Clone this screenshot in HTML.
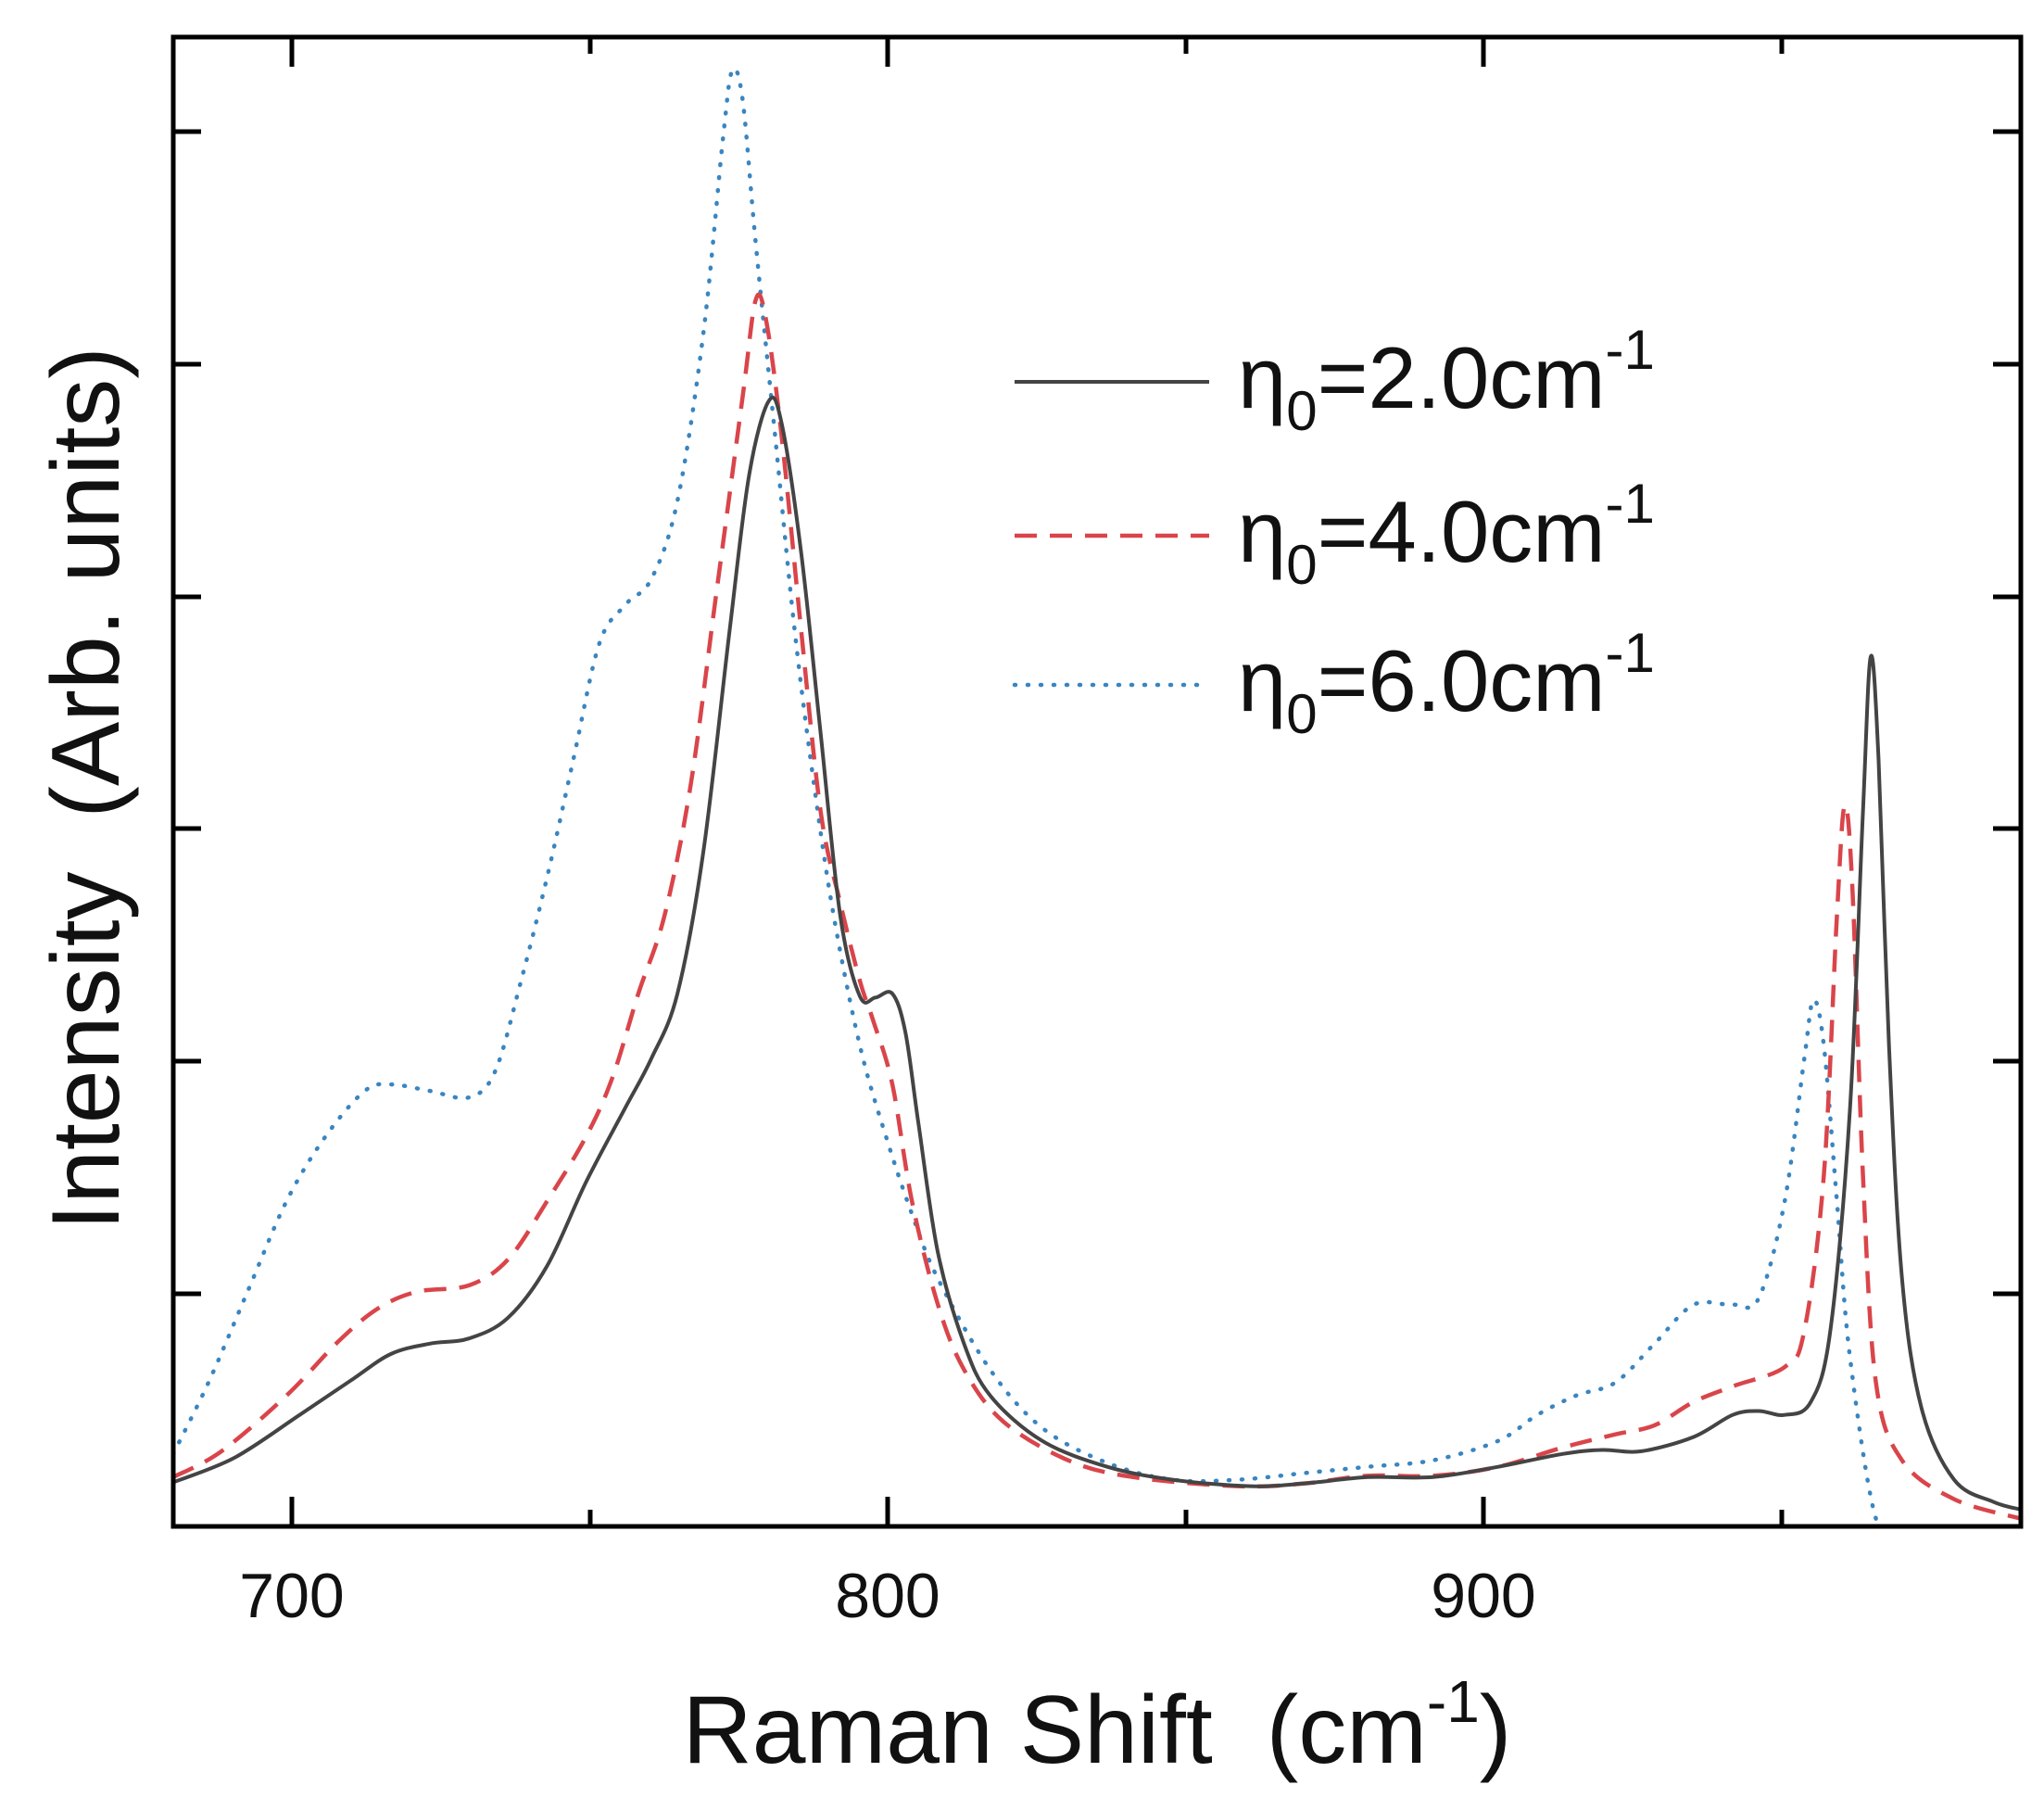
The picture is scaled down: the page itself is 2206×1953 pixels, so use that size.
<!DOCTYPE html>
<html><head><meta charset="utf-8"><style>
html,body{margin:0;padding:0;background:#fff}
svg{display:block}
text{font-family:"Liberation Sans",Arial,sans-serif;fill:#111}
</style></head><body>
<svg id="s" width="2206" height="1953" viewBox="0 0 2206 1953" xmlns="http://www.w3.org/2000/svg">
<defs><clipPath id="c"><rect x="187" y="40" width="1994" height="1607"/></clipPath></defs>
<g clip-path="url(#c)">
<path id="p3" fill="none" stroke="#3a85c0" stroke-width="4.5" stroke-dasharray="1 13" stroke-linecap="round"/>
<path id="p2" fill="none" stroke="#d9454a" stroke-width="4.5" stroke-dasharray="24 14"/>
<path id="p1" fill="none" stroke="#444" stroke-width="4"/>
</g>
<g stroke="#000" stroke-width="5" fill="none">
<rect x="187" y="40" width="1994" height="1607"/>
<path d="M315 1647v-32M958 1647v-32M1601 1647v-32M637 1647v-18M1280 1647v-18M1923 1647v-18
M315 40v32M958 40v32M1601 40v32M637 40v18M1280 40v18M1923 40v18
M187 142h30M187 393h30M187 644h30M187 894h30M187 1145h30M187 1396h30
M2181 142h-30M2181 393h-30M2181 644h-30M2181 894h-30M2181 1145h-30M2181 1396h-30"/>
</g>
<g font-size="68" text-anchor="middle">
<text x="315" y="1745">700</text><text x="958" y="1745">800</text><text x="1601" y="1745">900</text>
</g>
<text x="1184" y="1902" font-size="104" text-anchor="middle" xml:space="preserve">Raman Shift  (cm<tspan font-size="64" dy="-44">-1</tspan><tspan dy="44">)</tspan></text>
<text transform="translate(128,851) rotate(-90)" font-size="104" text-anchor="middle" xml:space="preserve">Intensity  (Arb. units)</text>
<g>
<line x1="1095" y1="412" x2="1305" y2="412" stroke="#444" stroke-width="4"/>
<line x1="1095" y1="578" x2="1305" y2="578" stroke="#d9454a" stroke-width="4.5" stroke-dasharray="24 14"/>
<line x1="1095" y1="739" x2="1305" y2="739" stroke="#3a85c0" stroke-width="4.5" stroke-dasharray="1 13" stroke-linecap="round"/>
<text x="1336" y="440" font-size="94">η<tspan font-size="60" dy="24">0</tspan><tspan dy="-24">=2.0cm</tspan><tspan font-size="60" dy="-42">-1</tspan></text>
<text x="1336" y="606" font-size="94">η<tspan font-size="60" dy="24">0</tspan><tspan dy="-24">=4.0cm</tspan><tspan font-size="60" dy="-42">-1</tspan></text>
<text x="1336" y="767" font-size="94">η<tspan font-size="60" dy="24">0</tspan><tspan dy="-24">=6.0cm</tspan><tspan font-size="60" dy="-42">-1</tspan></text>
</g>
</svg>
<script>
var A=[[133,1137],[180,1118],[230,1085],[270,1058],[300,1038],[330,1030],[360,1026],[390,1010],[420,970],[450,905],[480,848],[500,810],[520,760],[540,650],[560,480],[575,360],[590,303],[600,320],[615,420],[630,560],[645,700],[660,762],[672,763],[685,760],[695,790],[705,860],[720,960],[740,1030],[760,1070],[800,1105],[850,1125],[900,1135],[960,1140],[1000,1138],[1050,1133],[1100,1133],[1150,1125],[1200,1115],[1230,1112],[1260,1113],[1300,1102],[1330,1085],[1350,1082],[1370,1085],[1390,1075],[1405,1020],[1420,850],[1430,620],[1436,500],[1442,580],[1450,800],[1460,980],[1475,1080],[1500,1135],[1530,1152],[1551,1158]];
var B=[[133,1133],[170,1113],[220,1070],[260,1028],[290,1003],[320,990],[360,985],[390,965],[420,920],[450,870],[470,825],[490,760],[510,700],[530,600],[550,450],[570,300],[580,225],[588,240],[600,330],[615,480],[630,620],[645,690],[660,750],[670,780],[685,830],[700,920],[720,1000],[740,1050],[770,1090],[820,1120],[870,1133],[950,1140],[1000,1138],[1050,1132],[1100,1132],[1150,1125],[1200,1110],[1240,1100],[1270,1093],[1300,1075],[1330,1063],[1370,1048],[1385,1020],[1400,900],[1410,700],[1416,615],[1422,680],[1430,900],[1440,1060],[1460,1120],[1500,1150],[1551,1165]];
var C=[[133,1115],[160,1060],[190,990],[220,920],[250,870],[280,835],[300,830],[330,835],[360,840],[380,820],[400,750],[420,670],[440,580],[460,490],[480,460],[500,440],[520,380],[540,250],[555,100],[562,48],[570,70],[580,180],[595,330],[610,480],[625,600],[640,700],[660,800],[680,870],[700,930],[720,980],[760,1050],[800,1095],[850,1122],[900,1135],[950,1135],[1000,1130],[1050,1125],[1100,1120],[1150,1105],[1180,1085],[1210,1070],[1240,1060],[1270,1030],[1300,1000],[1330,1000],[1350,995],[1370,920],[1385,810],[1392,765],[1400,800],[1410,920],[1420,1040],[1440,1165],[1460,1172],[1551,1172]];
function T(p){return [187+(p[0]-133)*1.406,40+(p[1]-22)*1.3986];}
function path(P){P=P.map(T);var d="M"+P[0][0].toFixed(1)+" "+P[0][1].toFixed(1);
for(var i=0;i<P.length-1;i++){var p0=P[Math.max(i-1,0)],p1=P[i],p2=P[i+1],p3=P[Math.min(i+2,P.length-1)];
d+="C"+(p1[0]+(p2[0]-p0[0])/6).toFixed(1)+" "+(p1[1]+(p2[1]-p0[1])/6).toFixed(1)+" "+(p2[0]-(p3[0]-p1[0])/6).toFixed(1)+" "+(p2[1]-(p3[1]-p1[1])/6).toFixed(1)+" "+p2[0].toFixed(1)+" "+p2[1].toFixed(1);}
return d;}
document.getElementById("p1").setAttribute("d",path(A));
document.getElementById("p2").setAttribute("d",path(B));
document.getElementById("p3").setAttribute("d",path(C));
</script>
</body></html>
